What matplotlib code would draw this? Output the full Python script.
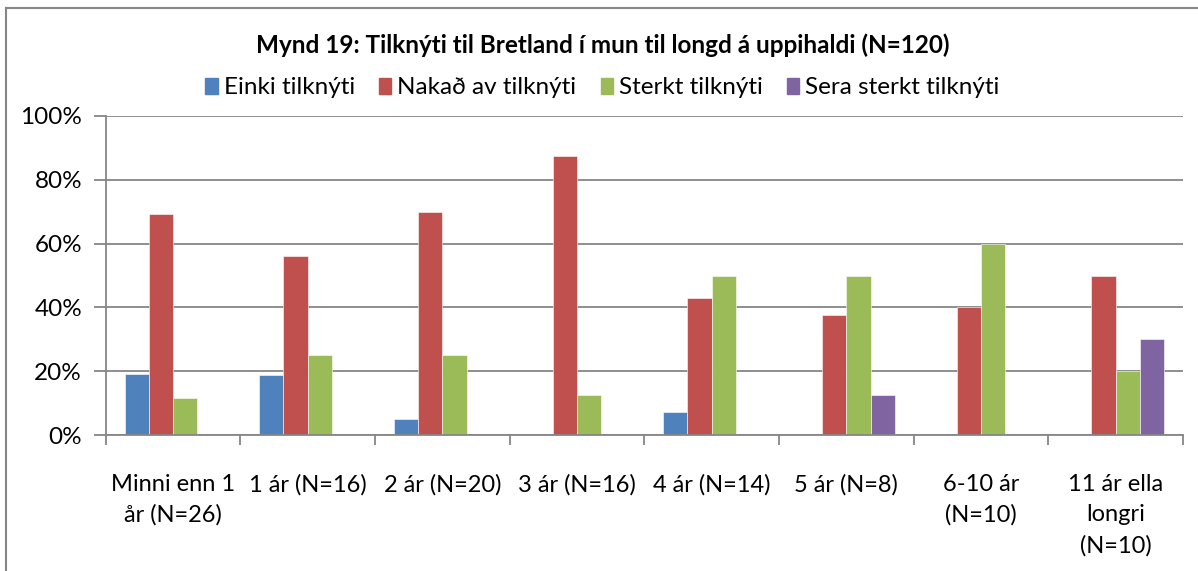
import matplotlib
matplotlib.use("Agg")
import matplotlib.pyplot as plt
import numpy as np
from matplotlib.lines import Line2D

categories = ["Minni enn 1\når (N=26)", "1 ár (N=16)", "2 ár (N=20)", "3 ár (N=16)",
              "4 ár (N=14)", "5 ár (N=8)", "6-10 ár\n(N=10)", "11 ár ella\nlongri\n(N=10)"]
series_names = ["Einki tilknýti", "Nakað av tilknýti", "Sterkt tilknýti", "Sera sterkt tilknýti"]
einki = [19.2, 18.75, 5.0, 0, 7.1, 0, 0, 0]
nakad = [69.2, 56.25, 70.0, 87.5, 42.9, 37.5, 40.0, 50.0]
sterkt = [11.5, 25.0, 25.0, 12.5, 50.0, 50.0, 60.0, 20.0]
sera = [0, 0, 0, 0, 0, 12.5, 0, 30.0]
y_ticks = [0, 20, 40, 60, 80, 100]
y_labels = ["0%", "20%", "40%", "60%", "80%", "100%"]
title = "Mynd 19: Tilknýti til Bretland í mun til longd á uppihaldi (N=120)"
colors = ["#4F81BD", "#C0504D", "#9BBB59", "#8064A2"]

plt.rcParams['font.family'] = ['Lato', 'DejaVu Sans']
W, H = 1198, 571
fig = plt.figure(figsize=(W/100, H/100), dpi=100)
ax = fig.add_axes([105.7/W, 1-435/H, (1183-105.7)/W, (435-116)/H])

x = np.arange(len(categories))
bw = 0.18
data = [einki, nakad, sterkt, sera]
for i, (vals, c) in enumerate(zip(data, colors)):
    ax.bar(x + (i-1.5)*bw, vals, bw, color=c, edgecolor="white", linewidth=0.4, zorder=3)

ax.set_xlim(-0.5, len(categories)-0.5)
ax.set_ylim(0, 100)
ax.set_yticks(y_ticks)
ax.set_yticklabels(y_labels, fontsize=17.5)
ax.set_xticks(x)
ax.set_xticklabels(categories, fontsize=17, linespacing=1.55)
ax.tick_params(axis='x', length=0, pad=28)
ax.set_xticks(np.arange(-0.5, len(categories)), minor=True)
ax.tick_params(axis='x', which='minor', length=7, color="#868686", width=1.3, direction='out')
ax.tick_params(axis='y', length=9, color="#868686", width=1.3, direction='out', pad=8)
ax.grid(axis='y', color="#868686", linewidth=1.3, zorder=0)
for s in ['top', 'right']:
    ax.spines[s].set_visible(False)
for s in ['left', 'bottom']:
    ax.spines[s].set_color("#868686")
    ax.spines[s].set_linewidth(1.3)
ax.spines['bottom'].set_zorder(4)

fig.text(0.503, 1-45/H, title, ha='center', va='center', fontsize=17.5, fontweight='bold')
handles = [plt.Rectangle((0, 0), 1, 1, color=c) for c in colors]
fig.legend(handles, series_names, loc='center', bbox_to_anchor=(0.503, 1-88/H), ncol=4,
           frameon=False, fontsize=17.5, handlelength=0.5, handleheight=0.6, handletextpad=0.25,
           columnspacing=1.0)

# chart border (partially visible)
fig.add_artist(Line2D([6/W, 6/W], [0, 1-8/H], color="#868686", linewidth=1.5, transform=fig.transFigure))
fig.add_artist(Line2D([6/W, 1], [1-8/H, 1-8/H], color="#868686", linewidth=1.5, transform=fig.transFigure))

fig.savefig("out.png", dpi=100)
